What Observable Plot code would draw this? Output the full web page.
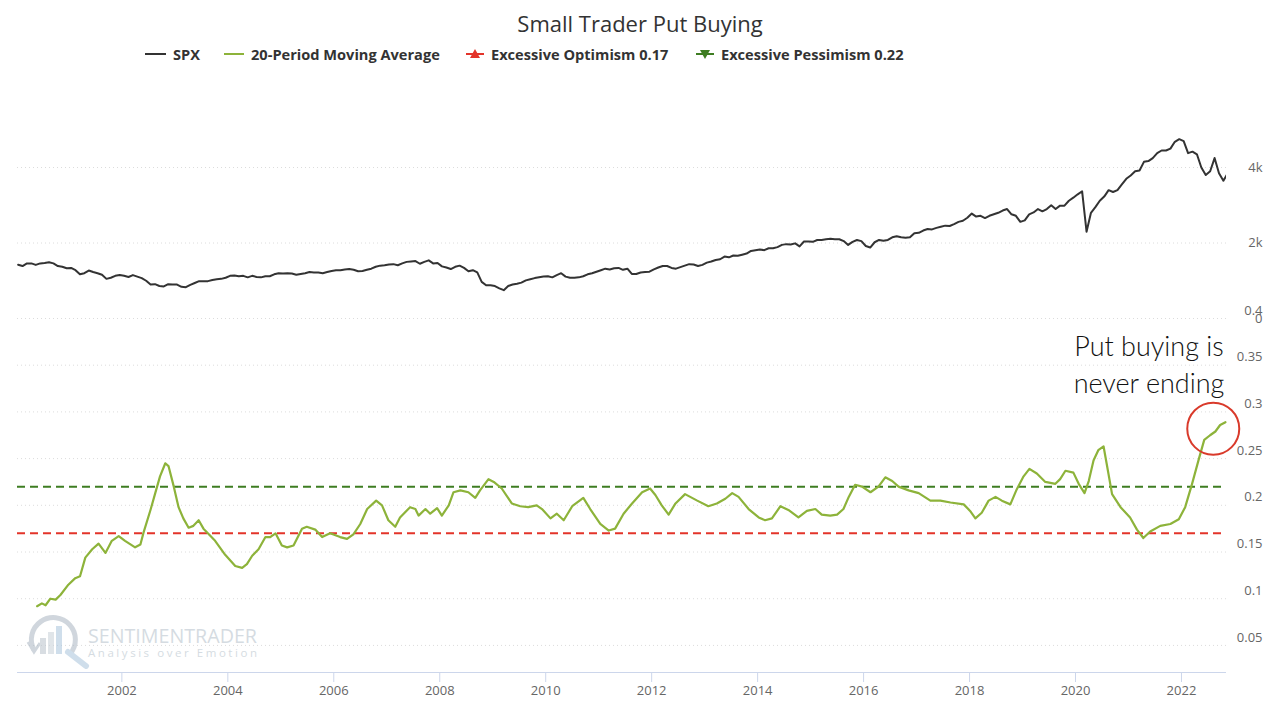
<!DOCTYPE html>
<html>
<head>
<meta charset="utf-8">
<script src="https://cdn.jsdelivr.net/npm/d3@7"></script>
<script src="https://cdn.jsdelivr.net/npm/@observablehq/plot@0.6"></script>
<style>
  body { margin: 0; background: #fff; }
  #wrap { position: relative; width: 1280px; height: 709px; overflow: hidden; font-family: "Open Sans", sans-serif; background: #fff; }
  #title { position: absolute; top: 8px; left: 0; width: 1280px; text-align: center; font-size: 22px; color: #333; }
  .leg { position: absolute; top: 45px; height: 18px; display: flex; align-items: center; font-size: 14.6px; font-weight: 700; color: #333; white-space: nowrap; }
  .leg svg { margin-right: 7px; }
  #top, #bottom { position: absolute; left: 0; }
  #top { top: 80px; }
  #bottom { top: 300px; }
  #note { position: absolute; left: 1040px; top: 322px; }
  #logo { position: absolute; left: 20px; top: 612px; }
</style>
</head>
<body>
<div id="wrap">
  <div id="title">Small Trader Put Buying</div>
  <div class="leg" style="left:145px"><svg width="21" height="12"><line x1="0" y1="6" x2="21" y2="6" stroke="#333" stroke-width="2"/></svg>SPX</div>
  <div class="leg" style="left:224px"><svg width="20" height="12"><line x1="0" y1="6" x2="20" y2="6" stroke="#8db33a" stroke-width="2"/></svg>20-Period Moving Average</div>
  <div class="leg" style="left:466px"><svg width="18" height="12"><line x1="0" y1="6" x2="18" y2="6" stroke="#e3342a" stroke-width="2"/><path d="M9 1 L14 10 L4 10 Z" fill="#e3342a"/></svg>Excessive Optimism 0.17</div>
  <div class="leg" style="left:696px"><svg width="18" height="12"><line x1="0" y1="6" x2="18" y2="6" stroke="#3e7d22" stroke-width="2"/><path d="M4 2 L14 2 L9 11 Z" fill="#3e7d22"/></svg>Excessive Pessimism 0.22</div>
  <div id="top"></div>
  <div id="bottom"></div>
  <svg id="logo" width="250" height="60">
    <g opacity="0.55">
      <path d="M14 38 A22 22 0 1 1 50 42" fill="none" stroke="#aab6c2" stroke-width="5"/>
      <path d="M8 30 L14 40 L20 31" fill="none" stroke="#aab6c2" stroke-width="3"/>
      <rect x="20" y="26" width="6" height="16" fill="#b9c3cc"/>
      <rect x="28" y="20" width="6" height="22" fill="#c8d0d8"/>
      <rect x="36" y="14" width="6" height="28" fill="#a9c4dc"/>
      <line x1="48" y1="40" x2="66" y2="54" stroke="#a9c4dc" stroke-width="6" stroke-linecap="round"/>
      <text x="68" y="31" textLength="169" lengthAdjust="spacingAndGlyphs" font-family="Open Sans" font-size="20" fill="#b3bfca">SENTIMENTRADER</text>
      <text x="68" y="45" textLength="169" lengthAdjust="spacing" font-family="Open Sans" font-size="11.5" fill="#b3bfca">Analysis over Emotion</text>
    </g>
  </svg>
  <svg id="note" width="220" height="90">
    <text x="109" y="34" text-anchor="middle" font-family="Lato" font-weight="300" font-size="27" fill="#111">Put buying is</text>
    <text x="109" y="71" text-anchor="middle" font-family="Lato" font-weight="300" font-size="27" fill="#111">never ending</text>
  </svg>
</div>
<script>
// ---------- data ----------
// SPX, one value per month starting Jan 2000 (mid-month), last value early Nov 2022
const spxStartYear = 2000;
const spxValues = [
  1425,1390,1460,1460,1420,1460,1470,1490,1460,1390,1370,1330,
  1340,1280,1170,1200,1270,1230,1200,1160,1050,1080,1130,1150,
  1130,1100,1150,1110,1070,1000,900,910,860,850,910,900,
  900,840,830,890,940,990,990,990,1020,1040,1050,1080,
  1130,1140,1120,1130,1090,1130,1100,1090,1120,1120,1170,1200,
  1190,1200,1190,1160,1180,1200,1230,1220,1220,1200,1230,1260,
  1280,1280,1300,1310,1290,1250,1260,1290,1320,1370,1400,1410,
  1430,1440,1410,1460,1500,1510,1520,1450,1500,1540,1460,1470,
  1380,1350,1310,1370,1400,1340,1250,1280,1220,970,880,880,
  860,800,750,860,900,920,950,1010,1040,1070,1090,1110,
  1120,1090,1150,1200,1110,1080,1080,1090,1120,1170,1200,1240,
  1280,1320,1300,1330,1340,1290,1320,1180,1180,1220,1230,1240,
  1300,1350,1390,1390,1340,1320,1360,1400,1440,1430,1390,1420,
  1480,1510,1550,1570,1640,1620,1670,1660,1690,1720,1790,1810,
  1830,1810,1860,1860,1890,1950,1970,1960,1990,1910,2040,2040,
  2030,2080,2080,2100,2110,2100,2100,2050,1950,2030,2080,2050,
  1920,1880,2020,2080,2060,2080,2150,2180,2150,2140,2150,2260,
  2270,2330,2370,2360,2400,2430,2460,2450,2500,2560,2590,2670,
  2780,2700,2720,2660,2720,2760,2800,2860,2900,2760,2720,2560,
  2600,2760,2810,2900,2840,2900,3000,2900,2990,2990,3120,3200,
  3290,3370,2300,2800,2950,3120,3230,3400,3350,3400,3550,3700,
  3790,3900,3920,4150,4170,4250,4380,4450,4450,4500,4680,4750,
  4700,4380,4420,4350,4000,3800,3900,4250,3850,3650,3850
];

// 20-period moving average of small trader put buying (decimal year, value)
const maYears = [
  2000.40,2000.49,2000.56,2000.65,2000.75,2000.84,2000.99,2001.12,2001.21,2001.31,2001.44,2001.56,2001.69,2001.81,2001.94,
  2002.06,2002.25,2002.35,2002.41,2002.54,2002.63,2002.72,2002.82,2002.88,2002.98,2003.07,2003.16,2003.26,2003.35,2003.45,
  2003.54,2003.76,2003.95,2004.14,2004.27,2004.36,2004.46,2004.58,2004.71,2004.80,2004.90,2005.02,2005.12,2005.24,2005.40,
  2005.49,2005.65,2005.78,2005.93,2006.12,2006.25,2006.37,2006.50,2006.63,2006.80,2006.91,2007.03,2007.16,2007.25,2007.44,
  2007.54,2007.60,2007.73,2007.82,2007.95,2008.04,2008.17,2008.26,2008.39,2008.54,2008.67,2008.76,2008.92,2009.02,2009.17,
  2009.36,2009.52,2009.67,2009.83,2009.93,2010.09,2010.21,2010.34,2010.50,2010.71,2010.84,2011.03,2011.19,2011.31,2011.47,
  2011.63,2011.82,2011.97,2012.07,2012.19,2012.32,2012.45,2012.63,2012.86,2013.07,2013.23,2013.39,2013.52,2013.64,2013.83,
  2014.02,2014.14,2014.27,2014.43,2014.58,2014.77,2014.93,2015.09,2015.21,2015.37,2015.50,2015.62,2015.72,2015.84,2015.97,
  2016.13,2016.28,2016.41,2016.54,2016.66,2016.85,2017.04,2017.26,2017.45,2017.64,2017.89,2018.01,2018.11,2018.23,2018.36,
  2018.49,2018.61,2018.77,2018.89,2019.02,2019.13,2019.27,2019.43,2019.62,2019.71,2019.81,2019.96,2020.06,2020.17,2020.25,
  2020.34,2020.43,2020.53,2020.59,2020.69,2020.85,2021.03,2021.16,2021.28,2021.41,2021.60,2021.79,2021.95,2022.07,2022.20,
  2022.33,2022.43,2022.54,2022.64,2022.73,2022.83
];
const maValues = [
  0.092,0.095,0.093,0.100,0.099,0.104,0.115,0.122,0.124,0.144,0.153,0.159,0.149,0.162,0.167,
  0.162,0.155,0.158,0.171,0.195,0.213,0.231,0.245,0.242,0.220,0.198,0.186,0.176,0.178,0.184,
  0.175,0.162,0.147,0.135,0.133,0.137,0.146,0.153,0.166,0.166,0.170,0.157,0.155,0.157,0.175,
  0.177,0.174,0.166,0.170,0.166,0.164,0.169,0.180,0.196,0.205,0.200,0.184,0.177,0.187,0.198,
  0.196,0.189,0.196,0.191,0.197,0.189,0.200,0.214,0.216,0.214,0.208,0.216,0.228,0.225,0.218,
  0.202,0.199,0.198,0.200,0.196,0.186,0.191,0.184,0.199,0.208,0.196,0.180,0.173,0.175,0.191,
  0.202,0.214,0.218,0.211,0.200,0.190,0.202,0.212,0.205,0.199,0.202,0.207,0.213,0.209,0.196,
  0.187,0.184,0.186,0.199,0.195,0.187,0.194,0.196,0.190,0.189,0.190,0.196,0.209,0.222,0.220,
  0.214,0.220,0.230,0.226,0.220,0.216,0.213,0.205,0.205,0.203,0.201,0.194,0.186,0.192,0.205,
  0.209,0.205,0.201,0.217,0.231,0.239,0.234,0.225,0.223,0.228,0.237,0.235,0.223,0.213,0.226,
  0.248,0.259,0.263,0.244,0.212,0.198,0.187,0.174,0.165,0.172,0.178,0.180,0.185,0.198,0.223,
  0.250,0.270,0.275,0.279,0.286,0.289
];

const optimismLevel = 0.17;
const pessimismLevel = 0.22;
const highlight = [{year: 2022.6, value: 0.282}];

const xTicks = [2002,2004,2006,2008,2010,2012,2014,2016,2018,2020,2022];
const spxTicks = [0, 2000, 4000];
const spxTickLabels = ["0", "2k", "4k"];
const maTicks = [0.05, 0.1, 0.15, 0.2, 0.25, 0.3, 0.35, 0.4];
const xDomain = [2000.03, 2022.85];
const spxDomain = [0, 6000];
const maDomain = [0.021, 0.4];

// ---------- build tables ----------
const spx = spxValues.map((v, i) => ({year: spxStartYear + (i + 0.5) / 12, value: v}));
const ma = maYears.map((y, i) => ({year: y, value: maValues[i]}));

const style = {fontFamily: "Open Sans, sans-serif", fontSize: "13px", color: "#666", background: "transparent", overflow: "visible"};
const gridStyle = {stroke: "#dcdcdc", strokeOpacity: 1, strokeDasharray: "1,3"};

const topChart = Plot.plot({
  width: 1280, height: 240,
  marginLeft: 17, marginRight: 54, marginTop: 11.5, marginBottom: 2,
  style,
  x: {domain: xDomain, axis: null},
  y: {domain: spxDomain, label: null, axis: null},
  marks: [
    Plot.gridY(spxTicks, gridStyle),
    Plot.axisY(spxTicks, {anchor: "right", tickSize: 0, tickPadding: 36, textAnchor: "end", label: null,
      tickFormat: d => spxTickLabels[spxTicks.indexOf(d)], fill: "#666"}),
    Plot.line(spx, {x: "year", y: "value", stroke: "#333", strokeWidth: 2, clip: true})
  ]
});
document.getElementById("top").appendChild(topChart);

const bottomChart = Plot.plot({
  width: 1280, height: 409,
  marginLeft: 17, marginRight: 54, marginTop: 18, marginBottom: 37,
  style,
  x: {domain: xDomain, label: null},
  y: {domain: maDomain, label: null},
  marks: [
    Plot.gridY(maTicks, gridStyle),
    Plot.ruleY([maDomain[0]], {stroke: "#ccd6eb", strokeWidth: 1}),
    Plot.axisX(xTicks, {anchor: "bottom", tickSize: 10, tickPadding: 3, stroke: "#ccd6eb", fill: "#666", label: null, tickFormat: d => String(d)}),
    Plot.axisY(maTicks, {anchor: "right", tickSize: 0, tickPadding: 36, textAnchor: "end", dy: -8, label: null, fill: "#666", tickFormat: d => String(d)}),
    Plot.ruleY([optimismLevel], {stroke: "#e3342a", strokeWidth: 2, strokeDasharray: "8,5"}),
    Plot.ruleY([pessimismLevel], {stroke: "#3e7d22", strokeWidth: 2, strokeDasharray: "8,5"}),
    Plot.line(ma, {x: "year", y: "value", stroke: "#8db33a", strokeWidth: 2.2}),
    Plot.dot(highlight, {x: "year", y: "value", r: 26, stroke: "#d93a2b", strokeWidth: 2, fill: "none"})
  ]
});
document.getElementById("bottom").appendChild(bottomChart);
</script>
</body>
</html>
